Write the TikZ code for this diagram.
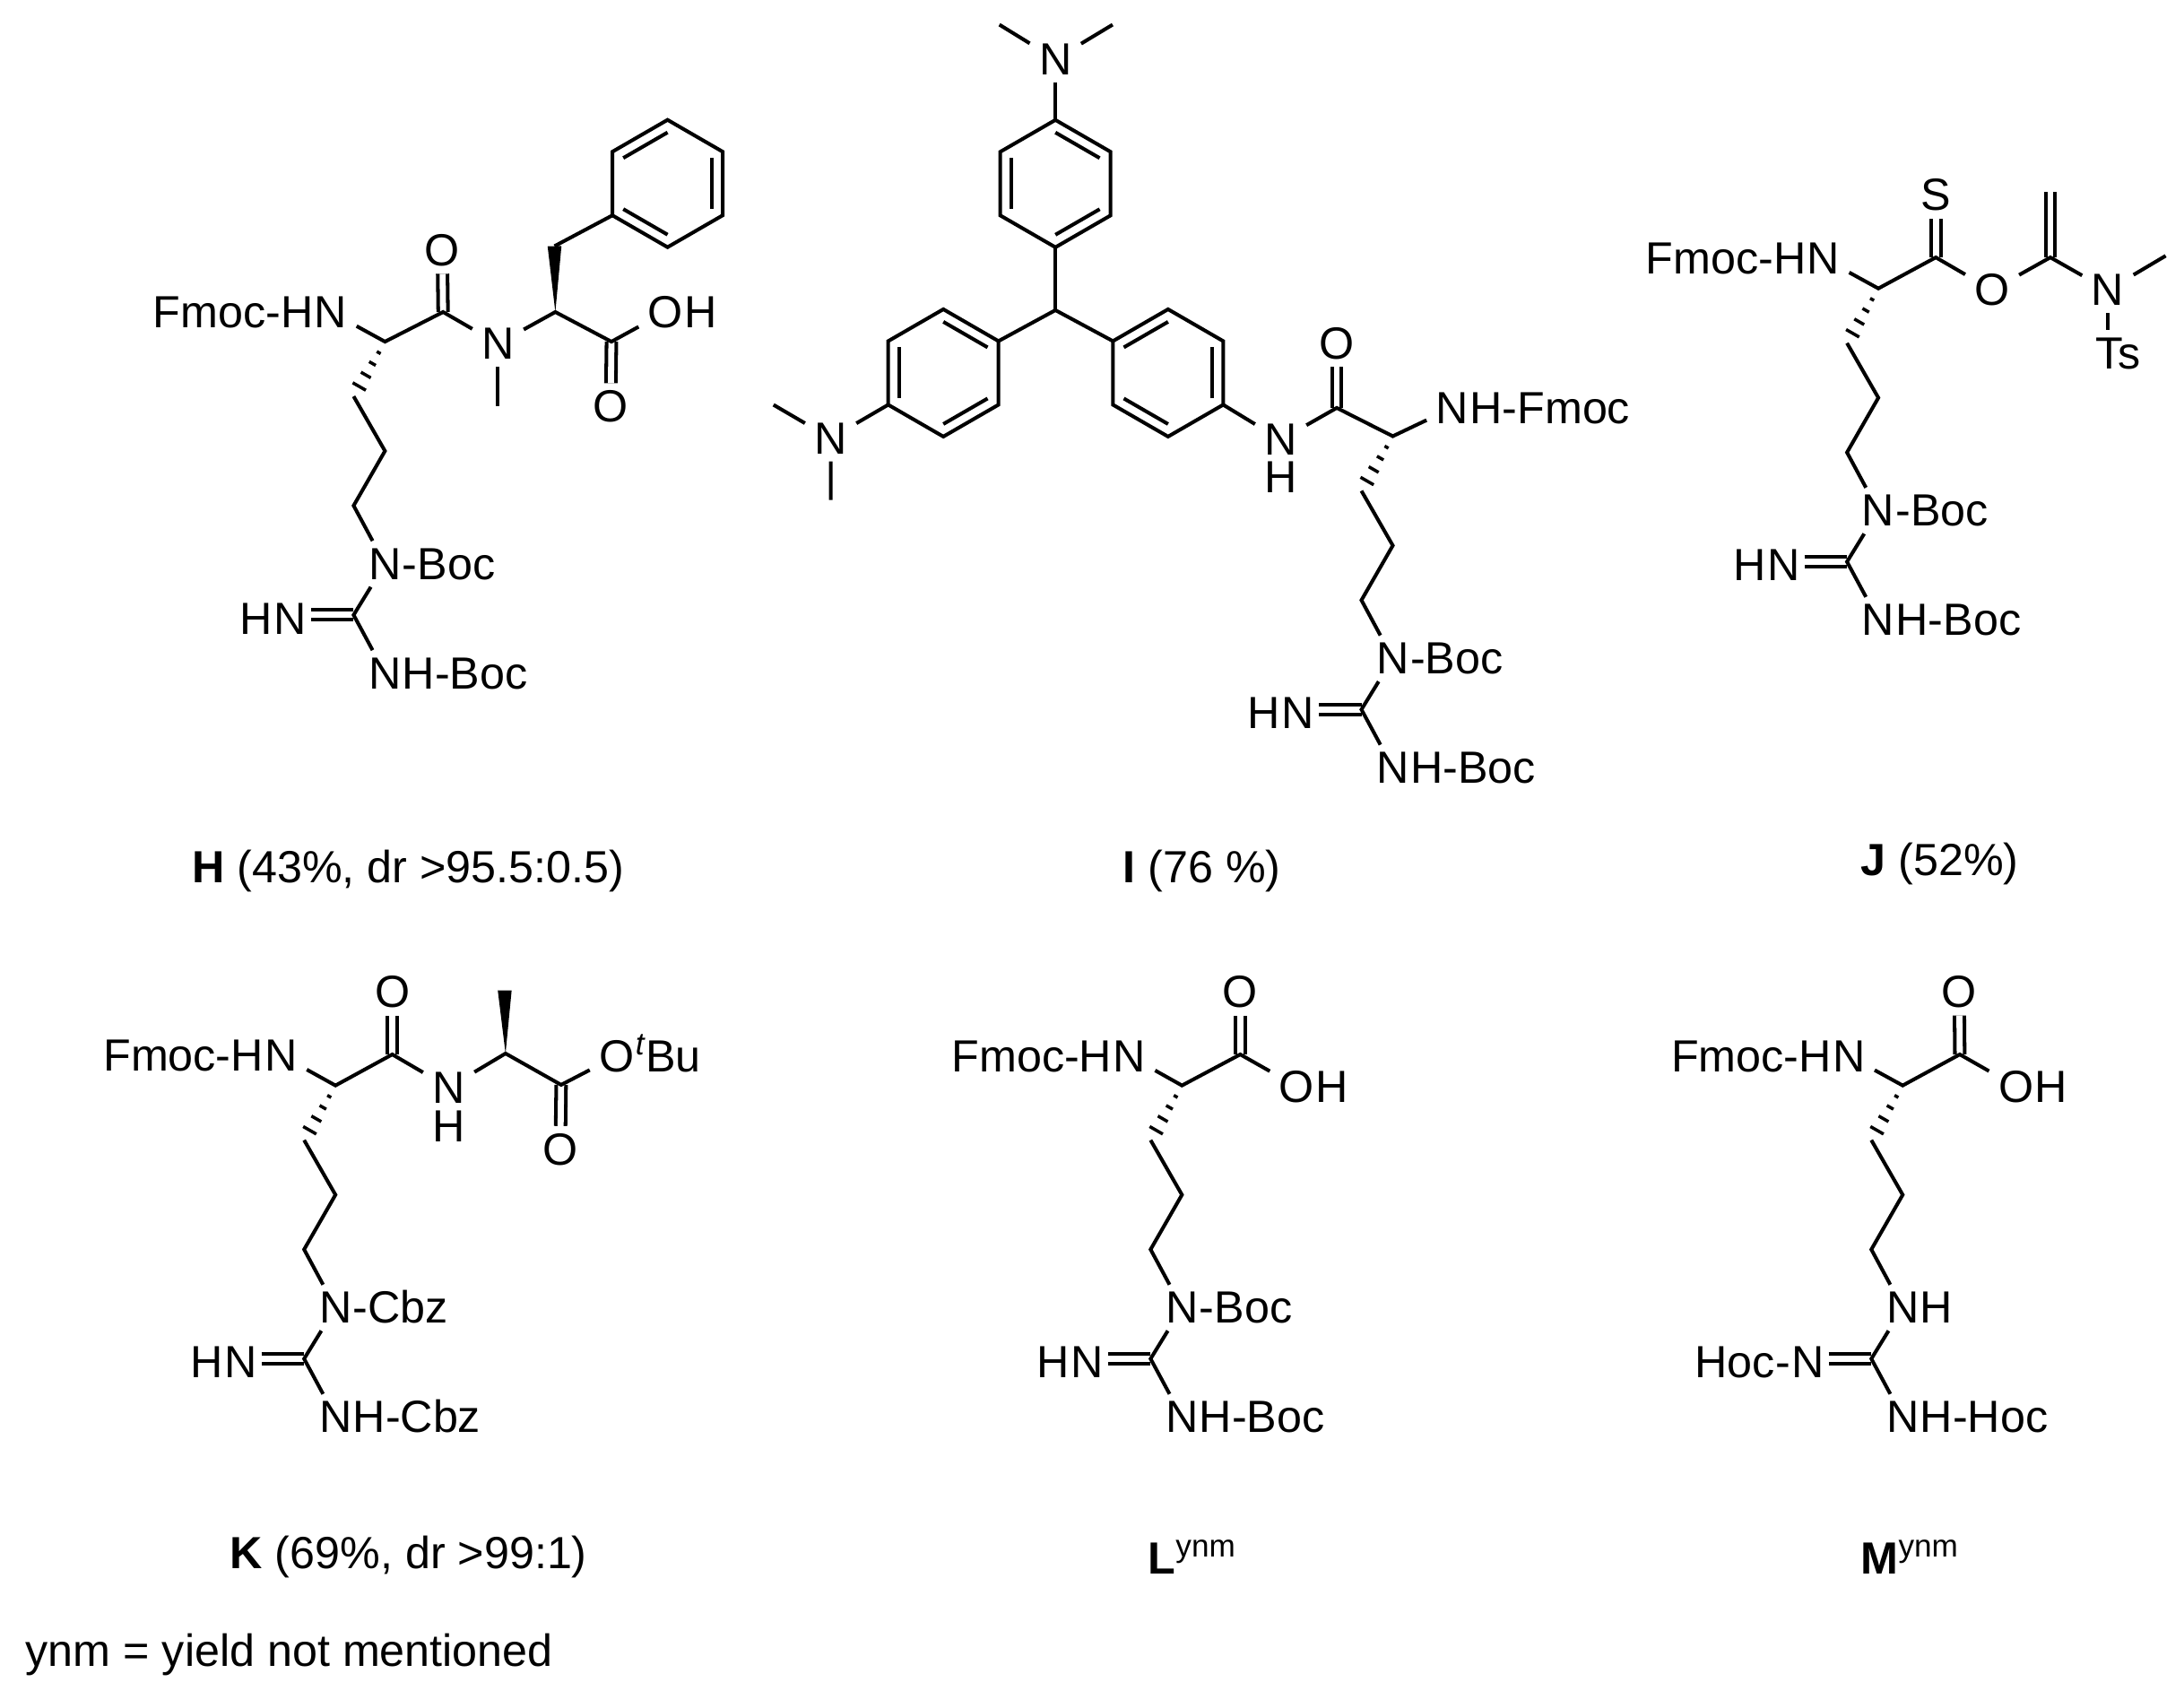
\documentclass[tikz,border=0pt]{standalone}
\usepackage{fontspec}
\setmainfont{Liberation Sans}
\usetikzlibrary{calc,positioning}
\tikzset{
  bond/.style={line width=1.15pt},
  dblbond/.style={line width=1.15pt,double,double distance=.68mm},
  atom/.style={font=\fontsize{14.3}{17}\selectfont,inner xsep=2.8pt,inner ysep=2.2pt},
  lab/.style={font=\fontsize{14.3}{17}\selectfont,inner sep=0pt},
  capt/.style={font=\fontsize{14.3}{17}\selectfont,inner sep=0pt,anchor=base west}
}
\def\hashbond#1#2{\foreach \t/\w in {.2/.7,.4/1.2,.61/1.8,.82/2.4}
  \draw[line width=1pt] ($(#1)!\t!(#2)!\w pt!90:(#2)$) -- ($(#1)!\t!(#2)!\w pt!-90:(#2)$);}
\def\wedgebond#1#2{\fill (#1) -- ($(#2)!2.2pt!90:(#1)$) -- ($(#2)!2.2pt!-90:(#1)$) -- cycle;}
\def\benzring#1#2#3{\begin{scope}[shift={(#2)},x=1cm,y=1cm]
  \draw[bond] (90:.71) -- (30:.71) -- (-30:.71) -- (-90:.71) -- (-150:.71) -- (150:.71) -- cycle;
  \foreach \a in {#3} \draw[bond] (\a:.57) -- ({\a+60}:.57);
  \foreach \a in {30,90,150,210,270,330} \coordinate (#1\a) at (\a:.71);
\end{scope}}
\def\argtail#1#2#3#4{\begin{scope}[shift={(#1)},x=.01cm,y=-.01cm]
  \coordinate (#1h) at (-35,61);
  \coordinate (#1a) at (0,122);
  \coordinate (#1b) at (-35,183);
  \coordinate (#1g) at (-35,305);
  \node[atom] (#1nt) at (0,248) {N};
  \node[lab,anchor=base west] (#1lt) at ([xshift=-2.8pt]#1nt.base east) {#2};
  \node[atom] (#1nl) at (-106,309) {N};
  \node[lab,anchor=base east] (#1ll) at ([xshift=2.8pt]#1nl.base west) {#3};
  \node[atom] (#1nb) at (0,370) {N};
  \node[lab,anchor=base west] (#1lb) at ([xshift=-2.8pt]#1nb.base east) {#4};
  \draw[dblbond] ([xshift=-1.5pt]#1nl.east |- #1g) -- (#1g);
  \draw[bond] (#1h) -- (#1a) -- (#1b) -- (#1nt);
  \draw[bond] (#1nt) -- (#1g) -- (#1nb);
\end{scope}\hashbond{#1}{#1h}}

\begin{document}
\begin{tikzpicture}
\useasboundingbox (0,0) rectangle (24.36,-18.86);
%%%%% H %%%%%
\begin{scope}[shift={(1.5,-1)},x=.004464cm,y=-.004592cm]
  \node[atom] (hna) at (490,540) {N};
  \node[lab,anchor=base east] (hfm) at ([xshift=2.8pt]hna.base west) {Fmoc-H};
  \coordinate (hca) at (625,612);
  \coordinate (hco) at (770,540);
  \node[atom] (hoa) at (768,390) {O};
  \node[atom] (hnb) at (907,617) {N};
  \coordinate (hme) at (907,768);
  \coordinate (hcb) at (1050,540);
  \coordinate (hbn) at (1048,380);
  \coordinate (hrg) at (1330,228);
  \coordinate (hcc) at (1190,612);
  \node[atom] (hob) at (1325,540) {O};
  \node[lab,anchor=base west] (hoh) at ([xshift=-2.8pt]hob.base east) {H};
  \node[atom] (hoc) at (1188,770) {O};
\end{scope}
\benzring{hr}{hrg}{90,-30,210}
\draw[dblbond] (hco) -- (hoa);
\draw[dblbond] (hcc) -- (hoc);
\draw[bond] (hna) -- (hca) -- (hco) -- (hnb) -- (hcb) -- (hcc) -- (hob);
\draw[bond] (hnb) -- (hme);
\draw[bond] (hbn) -- (hr210);
\wedgebond{hcb}{hbn}
\argtail{hca}{-Boc}{H}{H-Boc}
%%%%% I %%%%%
\begin{scope}[shift={(8.5,0)},x=.006378cm,y=-.00574cm]
  \node[atom] (ina) at (513,115) {N};
  \coordinate (ime) at (415,48);
  \coordinate (imf) at (613,48);
  \coordinate (irt) at (513,357);
  \coordinate (ich) at (513,603);
  \coordinate (irl) at (317,725);
  \coordinate (irr) at (710,725);
  \node[atom] (inb) at (120,852) {N};
  \coordinate (img) at (20,787);
  \coordinate (imh) at (120,972);
  \node[atom,inner ysep=.5pt] (inc) at (907,855) {N};
  \node[lab] (inh) at (907,928) {H};
  \coordinate (ico) at (1005,793);
  \node[atom] (ioa) at (1005,668) {O};
  \coordinate (ica) at (1103,848);
  \node[atom] (ind) at (1207,793) {N};
  \node[lab,anchor=base west] (ifm) at ([xshift=-2.8pt]ind.base east) {H-Fmoc};
\end{scope}
\benzring{it}{irt}{30,150,270}
\benzring{il}{irl}{30,150,270}
\benzring{ir}{irr}{90,-30,210}
\draw[dblbond] (ico) -- (ioa);
\draw[bond] (ime) -- (ina) -- (imf);
\draw[bond] (ina) -- (it90);
\draw[bond] (it270) -- (ich);
\draw[bond] (il30) -- (ich) -- (ir150);
\draw[bond] (img) -- (inb) -- (imh);
\draw[bond] (inb) -- (il210);
\draw[bond] (ir330) -- (inc) -- (ico) -- (ica) -- (ind);
\argtail{ica}{-Boc}{H}{H-Boc}
%%%%% J %%%%%
\begin{scope}[shift={(17.92,-1.8)},x=.00413cm,y=-.003571cm]
  \node[atom] (jna) at (585,303) {N};
  \node[lab,anchor=base east] (jfm) at ([xshift=2.8pt]jna.base west) {Fmoc-H};
  \coordinate (jca) at (733,397);
  \coordinate (jcs) at (888,300);
  \node[atom] (jsa) at (888,105) {S};
  \node[atom] (joa) at (1040,402) {O};
  \coordinate (jcb) at (1197,300);
  \coordinate (jch) at (1197,95);
  \node[atom] (jnb) at (1352,402) {N};
  \coordinate (jme) at (1508,295);
  \node[atom] (jts) at (1380,600) {Ts};
\end{scope}
\draw[dblbond] (jcs) -- (jsa);
\draw[dblbond] (jcb) -- (jch);
\draw[bond] (jna) -- (jca) -- (jcs) -- (joa) -- (jcb) -- (jnb) -- (jme);
\draw[bond] (jnb) -- (jnb |- jts.north);
\argtail{jca}{-Boc}{H}{H-Boc}
%%%%% K %%%%%
\begin{scope}[shift={(1,-10.6)},x=.004592cm,y=-.003571cm]
  \node[atom] (kna) at (465,328) {N};
  \node[lab,anchor=base east] (kfm) at ([xshift=2.8pt]kna.base west) {Fmoc-H};
  \coordinate (kca) at (597,422);
  \coordinate (kco) at (735,325);
  \node[atom] (koa) at (735,130) {O};
  \node[atom,inner ysep=.5pt] (knb) at (872,428) {N};
  \node[lab] (knh) at (872,550) {H};
  \coordinate (kcb) at (1010,322);
  \coordinate (kme) at (1008,125);
  \coordinate (kcc) at (1145,420);
  \node[atom] (kob) at (1280,330) {O};
  \node[lab,anchor=base west] (kbu) at ([xshift=-2.8pt]kob.base east) {\textsuperscript{\itshape t}Bu};
  \node[atom] (koc) at (1143,622) {O};
\end{scope}
\draw[dblbond] (kco) -- (koa);
\draw[dblbond] (kcc) -- (koc);
\draw[bond] (kna) -- (kca) -- (kco) -- (knb) -- (kcb) -- (kcc) -- (kob);
\wedgebond{kcb}{kme}
\argtail{kca}{-Cbz}{H}{H-Cbz}
%%%%% L %%%%%
\begin{scope}[shift={(10.355,-10.6)},x=.00339cm,y=-.003571cm]
  \node[atom] (lna) at (662,330) {N};
  \node[lab,anchor=base east] (lfm) at ([xshift=2.8pt]lna.base west) {Fmoc-H};
  \coordinate (lca) at (835,422);
  \coordinate (lco) at (1027,325);
  \node[atom] (loa) at (1027,130) {O};
  \node[atom] (lob) at (1213,425) {O};
  \node[lab,anchor=base west] (loh) at ([xshift=-2.8pt]lob.base east) {H};
\end{scope}
\draw[dblbond] (lco) -- (loa);
\draw[bond] (lna) -- (lca) -- (lco) -- (lob);
\argtail{lca}{-Boc}{H}{H-Boc}
%%%%% M %%%%%
\begin{scope}[shift={(18.455,-10.6)},x=.00339cm,y=-.003571cm]
  \node[atom] (mna) at (640,330) {N};
  \node[lab,anchor=base east] (mfm) at ([xshift=2.8pt]mna.base west) {Fmoc-H};
  \coordinate (mca) at (817,422);
  \coordinate (mco) at (1005,325);
  \node[atom] (moa) at (1003,130) {O};
  \node[atom] (mob) at (1190,425) {O};
  \node[lab,anchor=base west] (moh) at ([xshift=-2.8pt]mob.base east) {H};
\end{scope}
\draw[dblbond] (mco) -- (moa);
\draw[bond] (mna) -- (mca) -- (mco) -- (mob);
\argtail{mca}{H}{Hoc-}{H-Hoc}
%%%%% captions %%%%%
\node[capt] (caph) at (2.135,-9.85) {\textbf{H} (43\%, dr >95.5:0.5)};
\node[capt] (capi) at (12.52,-9.85) {\textbf{I} (76 \%)};
\node[capt] (capj) at (20.75,-9.77) {\textbf{J} (52\%)};
\node[capt] (capk) at (2.56,-17.49) {\textbf{K} (69\%, dr >99:1)};
\node[capt] (capl) at (12.8,-17.55) {\textbf{L}\textsuperscript{ynm}};
\node[capt] (capm) at (20.75,-17.55) {\textbf{M}\textsuperscript{ynm}};
\node[capt] (capn) at (.28,-18.58) {ynm = yield not mentioned};
\end{tikzpicture}
\end{document}
